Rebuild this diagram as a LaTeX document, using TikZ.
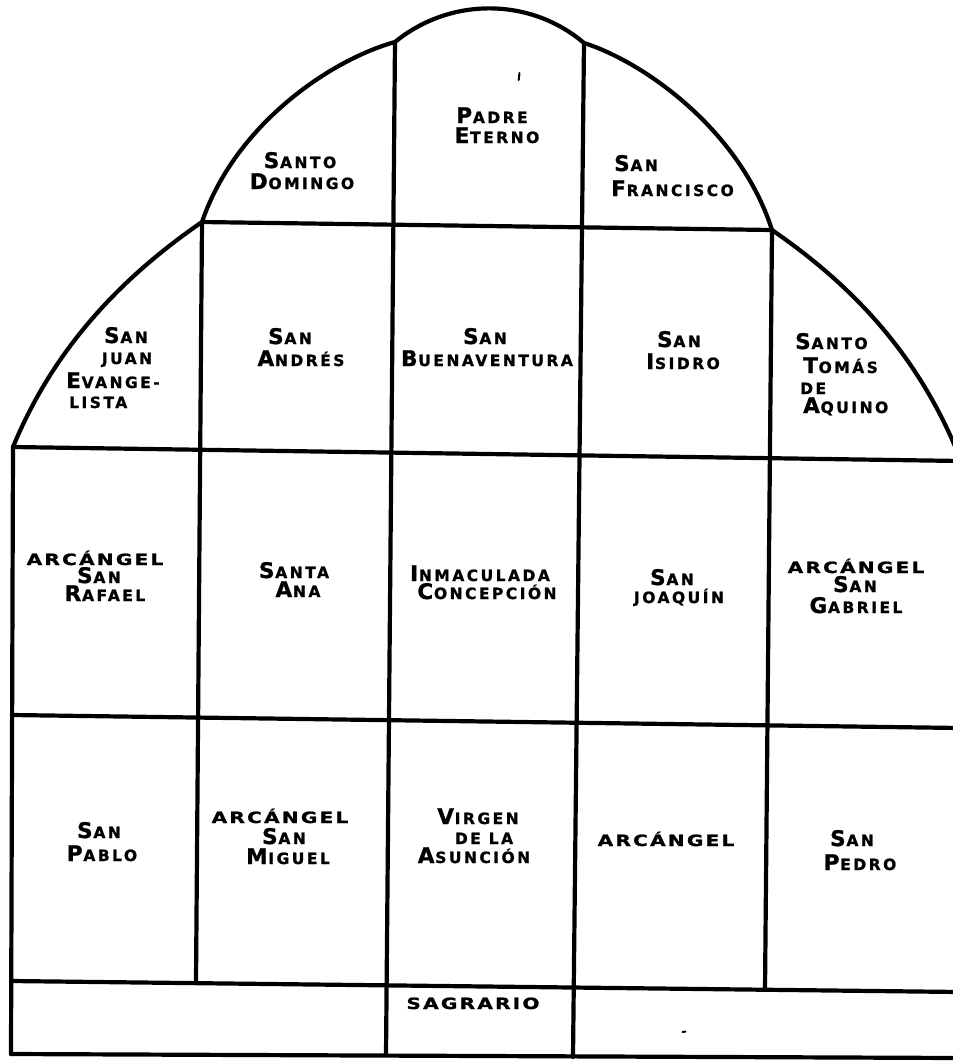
\documentclass[tikz,border=0pt]{standalone}
\usepackage{fontspec}
\newfontfamily\lett{DejaVu Sans}[LetterSpace=16, FakeBold=1.2]
\newfontfamily\lettwide{DejaVu Sans}[LetterSpace=14, FakeBold=1.2, FakeStretch=1.3]
\newcommand\BG[1]{{\fontsize{21.5}{21.5}\selectfont #1}\kern0.8pt}
\newcommand\WD[1]{{\lettwide\bfseries #1}}
\tikzset{
  lbl/.style={inner sep=0pt, anchor=base, font=\lett\bfseries\fontsize{15.5}{15.5}\selectfont},
  wall/.style={line width=4.2pt, line cap=round, line join=round},
  speck/.style={line width=2pt, line cap=round}
}
\newcommand\T[4]{\node[lbl] (#1) at (#2,#3) {#4};}
\begin{document}
\begin{tikzpicture}[x=1pt,y=-1pt]
\useasboundingbox (0,0) rectangle (953,1061);
\fill[white] (0,0) rectangle (953,1061);
\begin{scope}
\clip (0,0) rectangle (953,1061);
% outline of the arch
\draw[wall] (13,447) .. controls (55,345) and (125,275) .. (202,222)
  .. controls (235,125) and (330,60) .. (395,42)
  .. controls (450,-3) and (530,-3) .. (584,43)
  .. controls (644,62) and (740,130) .. (772,230)
  .. controls (849,283) and (919,353) .. (961,461);
% horizontal lines
\draw[wall] (202,222) -- (772,230);
\draw[wall] (13,447) -- (961,461);
\draw[wall] (12,715) -- (960,728);
\draw[wall] (11,981) -- (960,992);
\draw[wall] (11,1054) -- (960,1058);
% vertical lines
\draw[wall] (13,447) -- (11,1054);
\draw[wall] (202,222) -- (196,981);
\draw[wall] (395,42) -- (386,1055);
\draw[wall] (584,43) -- (573,1057);
\draw[wall] (772,230) -- (765,990);
% specks
\draw[speck] (519.5,73) -- (518.7,80);
\draw[speck] (682.5,1032) -- (685.5,1031.5);
\end{scope}
% labels
\T{pe1}{492}{123}{\BG{P}ADRE}
\T{pe2}{497}{143}{\BG{E}TERNO}
\T{sd1}{300}{168}{\BG{S}ANTO}
\T{sd2}{302}{189}{\BG{D}OMINGO}
\node[lbl, anchor=base west] (sf1) at (614,171) {\BG{S}AN};
\node[lbl, anchor=base west] (sf2) at (611,196) {\BG{F}RANCISCO};
\T{sj1}{126}{343}{\BG{S}AN}
\T{sj2}{127}{364}{JUAN}
\node[lbl, anchor=base west] (sj3) at (66,388) {\BG{E}VANGE-};
\node[lbl, anchor=base west] (sj4) at (69,408) {LISTA};
\T{sa1}{290}{344}{\BG{S}AN}
\T{sa2}{301}{366}{\BG{A}NDRÉS}
\T{sb1}{485}{344}{\BG{S}AN}
\T{sb2}{487}{366}{\BG{B}UENAVENTURA}
\T{si1}{679}{347}{\BG{S}AN}
\T{si2}{683}{369}{\BG{I}SIDRO}
\node[lbl, anchor=base west] (st1) at (795,349) {\BG{S}ANTO};
\node[lbl, anchor=base west] (st2) at (803,373) {\BG{T}OMÁS};
\node[lbl, anchor=base west] (st3) at (800,394) {DE};
\node[lbl, anchor=base west] (st4) at (803,413) {\BG{A}QUINO};
\T{ar1}{95}{565}{\WD{ARCÁNGEL}}
\T{ar2}{99}{583}{\BG{S}AN}
\T{ar3}{105}{601}{\BG{R}AFAEL}
\T{an1}{294}{578}{\BG{S}ANTA}
\T{an2}{298}{597}{\BG{A}NA}
\T{ic1}{480}{581}{\BG{I}NMACULADA}
\T{ic2}{487}{599}{\BG{C}ONCEPCIÓN}
\T{jq1}{672}{585}{\BG{S}AN}
\T{jq2}{679}{603}{JOAQUÍN}
\T{ga1}{856}{573}{\WD{ARCÁNGEL}}
\T{ga2}{855}{592}{\BG{S}AN}
\T{ga3}{856}{613}{\BG{G}ABRIEL}
\T{pa1}{99}{838}{\BG{S}AN}
\T{pa2}{102}{861}{\BG{P}ABLO}
\T{mi1}{280}{823}{\WD{ARCÁNGEL}}
\T{mi2}{284}{844}{\BG{S}AN}
\T{mi3}{288}{864}{\BG{M}IGUEL}
\T{vi1}{478}{824}{\BG{V}IRGEN}
\T{vi2}{484}{844}{DE LA}
\T{vi3}{474}{863}{\BG{A}SUNCIÓN}
\T{arc}{666}{846}{\WD{ARCÁNGEL}}
\T{pe3}{852}{846}{\BG{S}AN}
\T{pe4}{860}{870}{\BG{P}EDRO}
\T{sg}{473}{1009}{\WD{SAGRARIO}}
\end{tikzpicture}
\end{document}
